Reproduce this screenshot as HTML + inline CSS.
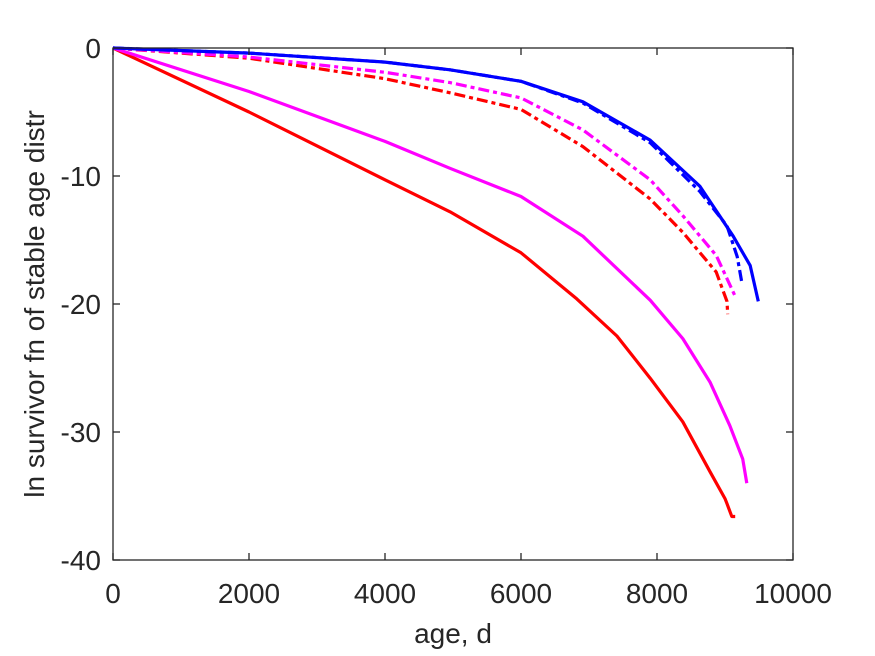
<!DOCTYPE html>
<html><head><meta charset="utf-8"><style>
body{margin:0;background:#fff;}
svg{display:block;font-family:"Liberation Sans",Arial,sans-serif;}
</style></head><body>
<svg id="chart" width="875" height="656" viewBox="0 0 875 656">
<rect width="875" height="656" fill="#fff"/>
<g id="series"></g>
<g id="axes"></g>
</svg>
<script>
const xTicks=[0,2000,4000,6000,8000,10000];
const yTicks=[0,-10,-20,-30,-40];
const redSolidX=[0,2000,4000,4956,6000,6820,7410,7900,8380,8780,9000,9030,9100,9150];
const redSolidY=[0,-5.0,-10.3,-12.8,-16.0,-19.6,-22.5,-25.8,-29.2,-33.1,-35.2,-35.6,-36.6,-36.6];
const magSolidX=[0,2000,4000,4956,6000,6910,7900,8380,8780,9070,9260,9320];
const magSolidY=[0,-3.4,-7.3,-9.4,-11.6,-14.7,-19.7,-22.7,-26.1,-29.5,-32.1,-34.0];
const blueSolidX=[0,2000,4000,4956,6000,6910,7900,8630,9120,9370,9490];
const blueSolidY=[0,-0.4,-1.1,-1.7,-2.6,-4.2,-7.2,-10.8,-14.7,-17.0,-19.8];
const blueDashX=[0,2000,4000,4956,6000,6910,7900,8630,9030,9180,9250];
const blueDashY=[0,-0.4,-1.1,-1.7,-2.6,-4.3,-7.4,-11.2,-13.9,-16.3,-18.4];
const magDashX=[0,2000,4000,4956,6000,6910,7900,8380,8870,9150];
const magDashY=[0,-0.7,-1.9,-2.7,-3.9,-6.4,-10.3,-13.1,-16.2,-19.4];
const redDashX=[0,2000,4000,4956,6000,6910,7900,8380,8870,9030,9040];
const redDashY=[0,-0.8,-2.4,-3.5,-4.8,-7.7,-11.8,-14.4,-17.5,-19.8,-20.8];

const L=113,R=793,T=48,B=560;
const xs=v=>L+(v-0)/10000*(R-L);
const ys=v=>T+(0-v)/40*(B-T);
const NS='http://www.w3.org/2000/svg';
const sg=document.getElementById('series');
const ax=document.getElementById('axes');
function mk(tag,attrs,parent){const e=document.createElementNS(NS,tag);for(const k in attrs)e.setAttribute(k,attrs[k]);parent.appendChild(e);return e;}
function line(xa,ya,color,dash,name){
  const d=xa.map((x,i)=>(i?'L':'M')+xs(x).toFixed(1)+','+ys(ya[i]).toFixed(1)).join(' ');
  const p=mk('path',{d:d,fill:'none',stroke:color,'stroke-width':3.2,'stroke-linejoin':'round'},sg);
  if(dash)p.setAttribute('stroke-dasharray','11,4,4,4');
  
  
}
line(redDashX,redDashY,'#ff0000',true,'red-dashdot-line');
line(magDashX,magDashY,'#ff00ff',true,'magenta-dashdot-line');
line(blueDashX,blueDashY,'#0000ff',true,'blue-dashdot-line');
line(redSolidX,redSolidY,'#ff0000',false,'red-solid-line');
line(magSolidX,magSolidY,'#ff00ff',false,'magenta-solid-line');
line(blueSolidX,blueSolidY,'#0000ff',false,'blue-solid-line');

const frame=mk('rect',{x:L,y:T,width:R-L,height:B-T,fill:'none',stroke:'#262626','stroke-width':1.3},ax);


xTicks.forEach(v=>{
  const x=xs(v);
  mk('line',{x1:x,y1:B,x2:x,y2:B-7,stroke:'#262626','stroke-width':1.3},ax);
  mk('line',{x1:x,y1:T,x2:x,y2:T+7,stroke:'#262626','stroke-width':1.3},ax);
  const t=mk('text',{x:x,y:603,'text-anchor':'middle','font-size':28,fill:'#262626'},ax);
  t.textContent=v;
  
  
});
yTicks.forEach(v=>{
  const y=ys(v);
  mk('line',{x1:L,y1:y,x2:L+7,y2:y,stroke:'#262626','stroke-width':1.3},ax);
  mk('line',{x1:R,y1:y,x2:R-7,y2:y,stroke:'#262626','stroke-width':1.3},ax);
  const t=mk('text',{x:101,y:y+10,'text-anchor':'end','font-size':28,fill:'#262626'},ax);
  t.textContent=v;
  
  
});
const xl=mk('text',{x:453,y:643,'text-anchor':'middle','font-size':28,fill:'#262626'},ax);
xl.textContent='age, d';


const yl=mk('text',{x:0,y:0,'text-anchor':'middle','font-size':28,fill:'#262626',transform:'translate(44,304) rotate(-90)'},ax);
yl.textContent='ln survivor fn of stable age distr';


</script>
</body></html>
